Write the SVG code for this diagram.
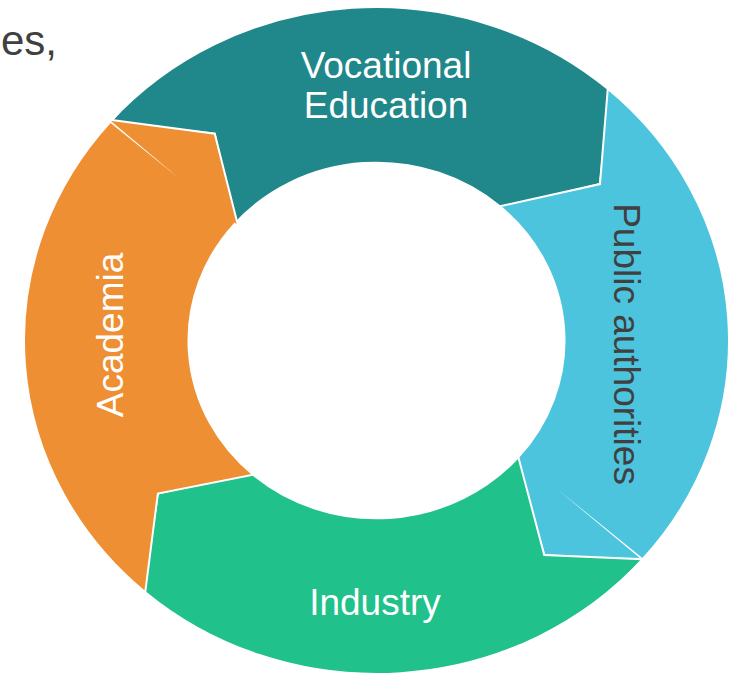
<svg xmlns="http://www.w3.org/2000/svg" width="736" height="674" viewBox="0 0 736 674">
  <style>
    .seg { stroke: #FFFFFF; stroke-width: 2; stroke-linejoin: miter; vector-effect: non-scaling-stroke; }
    .lbl { font-family: "Liberation Sans", Arial, sans-serif; font-size: 37px; }
    .w { fill: #FFFFFF; }
    .d { fill: #404040; }
    .seam { fill: #FFFFFF; }
  </style>
  <rect x="0" y="0" width="736" height="674" fill="#FFFFFF"/>
  <text class="lbl d" x="1" y="55" style="font-size:42px">es,</text>

  <g id="ring" transform="translate(376.5,340.5) scale(1,0.946)">
    <g id="vocational-education">
      <path class="seg" fill="#20878A" d="M -266.04,-231.26 A 352.5 352.5 0 0 1 231.26,-266.04 L 233.56,-268.68 L 223.47,-165.36 L 120.06,-138.11 L 123.34,-141.89 A 188 188 0 0 0 -141.89,-123.34 L -161.79,-218.65 Z"/>
    </g>
    <g id="public-authorities">
      <path class="seg" fill="#4DC4DE" d="M 231.26,-266.04 A 352.5 352.5 0 0 1 266.04,231.26 L 268.68,233.56 L 167.74,226.69 L 138.11,120.06 L 141.89,123.34 A 188 188 0 0 0 123.34,-141.89 L 223.47,-165.36 Z"/>
    </g>
    <g id="industry">
      <path class="seg" fill="#20C18A" d="M 266.04,231.26 A 352.5 352.5 0 0 1 -231.26,266.04 L -233.56,268.68 L -218.65,161.79 L -120.06,138.11 L -123.34,141.89 A 188 188 0 0 0 141.89,123.34 L 167.74,226.69 Z"/>
    </g>
    <g id="academia">
      <path class="seg" fill="#EE8F33" d="M -231.26,266.04 A 352.5 352.5 0 0 1 -266.04,-231.26 L -268.68,-233.56 L -161.79,-218.65 L -138.11,-120.06 L -141.89,-123.34 A 188 188 0 0 0 -123.34,141.89 L -218.65,161.79 Z"/>
    </g>
    <g id="seams">
      <polygon class="seam" points="-265.07,-231.61 -266.25,-230.25 -197.73,-171.89"/>
      <polygon class="seam" points="266.58,232.93 267.76,231.57 181.13,157.45"/>
    </g>
  </g>

  <g id="labels">
    <text class="lbl w" x="386" y="78" text-anchor="middle">Vocational</text>
    <text class="lbl w" x="386" y="118" text-anchor="middle">Education</text>
    <text class="lbl d" transform="translate(614,344) rotate(90)" x="0" y="0" text-anchor="middle">Public authorities</text>
    <text class="lbl w" x="375" y="615" text-anchor="middle">Industry</text>
    <text class="lbl w" transform="translate(123,335) rotate(-90)" x="0" y="0" text-anchor="middle">Academia</text>
  </g>
</svg>
